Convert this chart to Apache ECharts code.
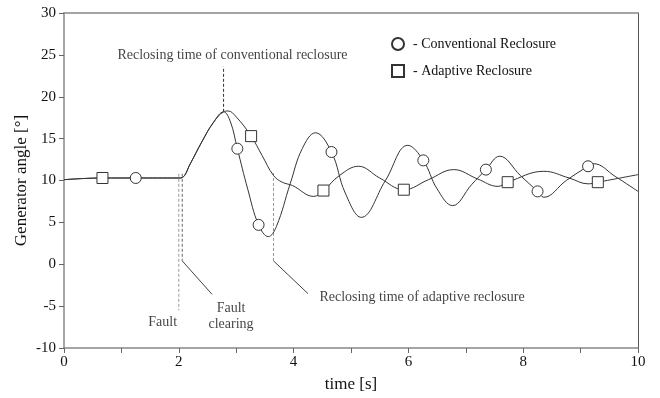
<!DOCTYPE html>
<html lang="en">
<head>
    <meta charset="UTF-8">
    <title>Generator angle - reclosure</title>
    <script src="https://cdn.jsdelivr.net/npm/echarts@6/dist/echarts.min.js"></script>
    <style>
        html, body { margin: 0; padding: 0; background: #fff; }
        .chart { width: 660px; height: 398px; }
    </style>
</head>
<body>
<div class="chart"></div>
<script>
    // shared part of both curves (before / during fault, up to first peak)
    let common = [
        [0, 10.1], [0.67, 10.3], [1.25, 10.3], [2.0, 10.3], [2.06, 10.35],
        [2.2, 12.0], [2.4, 14.6], [2.6, 16.9], [2.78, 18.2]
    ];
    // conventional reclosure after the first peak
    let conventional = [
        [2.9, 17.0], [3.02, 13.8], [3.2, 9.0], [3.39, 4.7], [3.56, 3.3], [3.7, 4.5],
        [3.94, 9.6], [4.15, 13.8], [4.38, 15.7], [4.66, 13.4], [4.9, 8.5], [5.18, 5.6],
        [5.6, 10.0], [5.99, 14.2], [6.26, 12.4], [6.5, 9.0], [6.77, 7.0], [7.1, 9.5],
        [7.35, 11.3], [7.59, 12.9], [7.95, 10.6], [8.25, 8.7], [8.36, 8.0], [8.75, 10.0],
        [9.13, 11.7], [9.23, 12.0], [9.6, 10.5], [10, 8.7]
    ];
    // adaptive reclosure after the first peak
    let adaptive = [
        [2.86, 18.3], [3.0, 17.6], [3.26, 15.3], [3.45, 13.0], [3.65, 10.6], [3.8, 9.8],
        [3.98, 9.4], [4.35, 8.1], [4.52, 8.8], [4.8, 10.6], [5.13, 11.7], [5.5, 10.3],
        [5.92, 8.9], [6.35, 10.1], [6.79, 11.3], [7.2, 10.2], [7.56, 9.3], [7.73, 9.8],
        [8.36, 11.1], [8.8, 10.3], [9.13, 9.6], [9.3, 9.8], [10, 10.7]
    ];
    // marker positions on the curves
    let convMarks = [[1.25, 10.3], [3.02, 13.8], [3.39, 4.7], [4.66, 13.4], [6.26, 12.4], [7.35, 11.3], [8.25, 8.7], [9.13, 11.7]];
    let adaptMarks = [[0.67, 10.3], [3.26, 15.3], [4.52, 8.8], [5.92, 8.9], [7.73, 9.8], [9.3, 9.8]];

    // annotation lines
    let faultLine = [[2.0, 10.8], [2.0, -5.5]];
    let clearLine = [[2.06, 10.8], [2.06, 0.4]];
    let clearLeader = [[2.06, 0.4], [2.58, -3.6]];
    let adaptLine = [[3.65, 10.9], [3.65, 0.4]];
    let adaptLeader = [[3.65, 0.4], [4.25, -3.5]];
    let convLine = [[2.78, 18.2], [2.78, 23.6]];

    // annotation texts: x, y, text, align
    let notes = [
        [0.93, 25.0, 'Reclosing time of conventional reclosure', 'left'],
        [1.72, -6.9, 'Fault', 'center'],
        [2.91, -6.2, 'Fault\nclearing', 'center'],
        [4.45, -4.0, 'Reclosing time of adaptive reclosure', 'left']
    ];

    let font = '"Liberation Serif", "DejaVu Serif", serif';
    let ink = '#333';

    let chart = echarts.init(document.querySelector('.chart'));

    function annot(data, color, type) {
        return {
            type: 'line', data, symbol: 'none', silent: true, z: 1,
            lineStyle: {color, width: 1, type}
        };
    }

    let option = {
        animation: false,
        grid: {left: 64, right: 22, top: 13, bottom: 50},
        legend: {
            orient: 'vertical', left: 386, top: 32, itemWidth: 12, itemHeight: 12, itemGap: 13,
            textStyle: {fontFamily: font, fontSize: 14, color: '#111', padding: [0, 0, 0, 4]},
            data: [
                {name: '- Conventional Reclosure', icon: 'circle'},
                {name: '- Adaptive Reclosure', icon: 'rect'}
            ]
        },
        xAxis: [{
            type: 'value', min: 0, max: 10, interval: 1,
            name: 'time [s]', nameLocation: 'middle', nameGap: 28,
            nameTextStyle: {fontFamily: font, fontSize: 17, color: '#111'},
            axisLine: {onZero: false, lineStyle: {color: '#888', width: 1.5}},
            axisTick: {length: 5, lineStyle: {color: '#666'}},
            axisLabel: {
                fontFamily: font, fontSize: 15, color: '#111', margin: 7,
                formatter: v => v % 2 === 0 ? v : ''
            },
            splitLine: {show: false}
        }, {
            type: 'value', min: 0, max: 10, position: 'top',
            axisLine: {onZero: false, lineStyle: {color: '#888', width: 1.5}},
            axisTick: {show: false}, axisLabel: {show: false}, splitLine: {show: false}
        }],
        yAxis: [{
            type: 'value', min: -10, max: 30, interval: 5,
            name: 'Generator angle [°]', nameLocation: 'middle', nameGap: 34, nameRotate: 90,
            nameMoveOverlap: false,
            nameTextStyle: {fontFamily: font, fontSize: 17, color: '#111'},
            axisLine: {show: true, onZero: false, lineStyle: {color: '#888', width: 1.5}},
            axisTick: {show: true, length: 5, lineStyle: {color: '#666'}},
            axisLabel: {fontFamily: font, fontSize: 15, color: '#111', margin: 8},
            splitLine: {show: false}
        }, {
            type: 'value', min: -10, max: 30, position: 'right',
            axisLine: {show: true, onZero: false, lineStyle: {color: '#555', width: 1}},
            axisTick: {show: false}, axisLabel: {show: false}, splitLine: {show: false}
        }],
        series: [
            annot(faultLine, '#999', [3, 2]),
            annot(clearLine, '#666', [3, 2]),
            annot(clearLeader, '#444', 'solid'),
            annot(adaptLine, '#999', [3, 2]),
            annot(adaptLeader, '#444', 'solid'),
            annot(convLine, '#333', [3, 2]),
            {
                type: 'line', name: 'conv', data: common.concat(conventional),
                symbol: 'none', smooth: 0.4, z: 3,
                lineStyle: {color: ink, width: 1}
            },
            {
                type: 'line', name: 'adapt', data: common.concat(adaptive),
                symbol: 'none', smooth: 0.4, z: 3,
                lineStyle: {color: ink, width: 1}
            },
            {
                type: 'scatter', name: '- Conventional Reclosure', data: convMarks,
                symbol: 'circle', symbolSize: 11, z: 5,
                itemStyle: {color: '#fff', borderColor: ink, borderWidth: 1, opacity: 1}
            },
            {
                type: 'scatter', name: '- Adaptive Reclosure', data: adaptMarks,
                symbol: 'rect', symbolSize: 11, z: 5,
                itemStyle: {color: '#fff', borderColor: ink, borderWidth: 1, opacity: 1}
            },
            {
                type: 'scatter', silent: true, symbolSize: 0, z: 6,
                data: notes.map(n => ({
                    value: [n[0], n[1]],
                    label: {
                        show: true, formatter: n[2], align: n[3],
                        position: n[3] === 'left' ? 'right' : 'inside', distance: 0,
                        fontFamily: font, fontSize: 14, color: '#111', lineHeight: 16
                    }
                }))
            }
        ]
    };

    chart.setOption(option);
</script>
</body>
</html>
